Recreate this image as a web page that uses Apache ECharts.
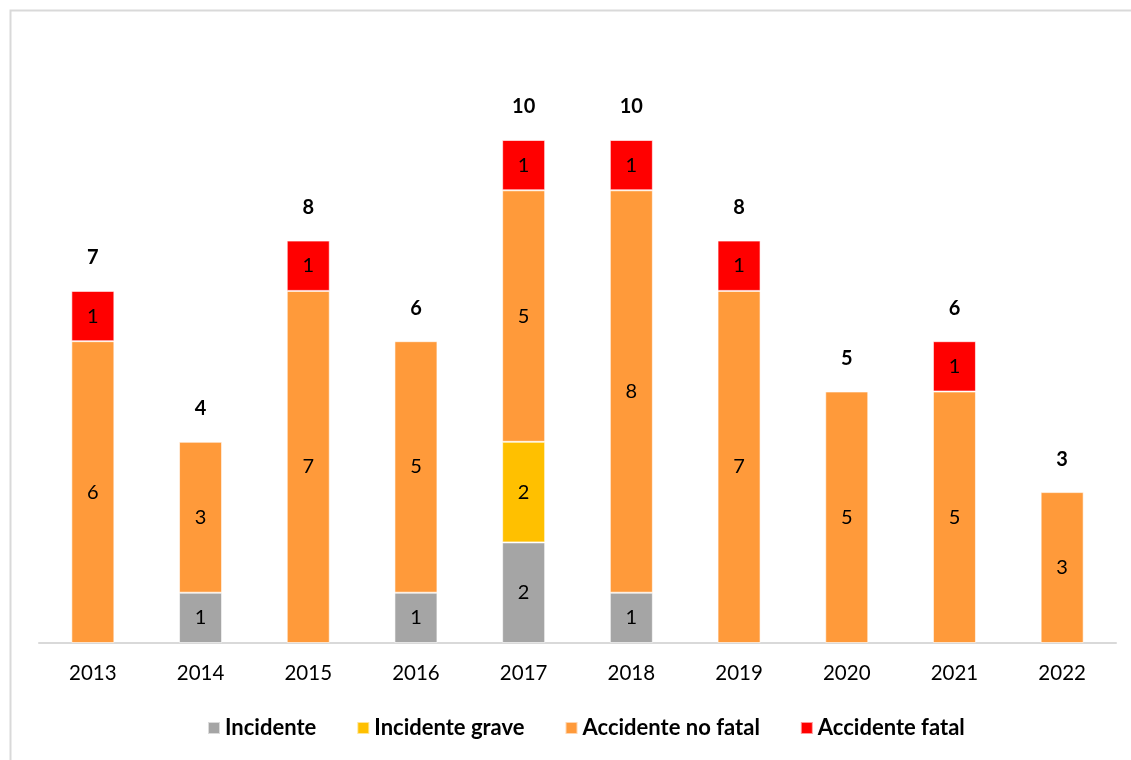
<!DOCTYPE html>
<html>
<head>
<meta charset="utf-8">
<script src="https://cdn.jsdelivr.net/npm/echarts@6/dist/echarts.min.js"></script>
<style>
  html, body { margin: 0; padding: 0; background: #fff; }
  #main { width: 1131px; height: 760px; }
</style>
</head>
<body>
<div id="main"></div>
<script>
// datos
var years = ['2013', '2014', '2015', '2016', '2017', '2018', '2019', '2020', '2021', '2022'];
var incidente = [0, 1, 0, 1, 2, 1, 0, 0, 0, 0];
var incidenteGrave = [0, 0, 0, 0, 2, 0, 0, 0, 0, 0];
var accidenteNoFatal = [6, 3, 7, 5, 5, 8, 7, 5, 5, 3];
var accidenteFatal = [1, 0, 1, 0, 1, 1, 1, 0, 1, 0];

var totals = years.map(function (y, i) {
  return incidente[i] + incidenteGrave[i] + accidenteNoFatal[i] + accidenteFatal[i];
});

var FONT = 'Lato, "Liberation Sans", sans-serif';

function serie(name, data, color) {
  return {
    name: name,
    type: 'bar',
    stack: 'total',
    barWidth: 43,
    data: data.map(function (v) { return v === 0 ? null : v; }),
    itemStyle: { color: color, borderColor: 'rgba(255,255,255,0.6)', borderWidth: 1 },
    label: {
      show: true,
      position: 'inside',
      color: '#000',
      fontSize: 20,
      fontFamily: FONT
    }
  };
}

var myChart = echarts.init(document.getElementById('main'));
myChart.setOption({
  backgroundColor: '#fff',
  animation: false,
  graphic: [{
    type: 'rect',
    shape: { x: 10.5, y: 10.5, width: 1140, height: 800 },
    style: { fill: 'none', stroke: '#d9d9d9', lineWidth: 2 },
    silent: true
  }],
  grid: { left: 39, right: 15, top: 39.4, bottom: 117 },
  legend: {
    data: ['Incidente', 'Incidente grave', 'Accidente no fatal', 'Accidente fatal'],
    left: 202,
    top: 712,
    itemWidth: 12,
    itemHeight: 12,
    itemGap: 40,
    icon: 'rect',
    textStyle: { fontSize: 22, fontWeight: 'bold', color: '#000', fontFamily: FONT }
  },
  xAxis: {
    type: 'category',
    data: years,
    axisLine: { lineStyle: { color: '#d9d9d9', width: 2 } },
    axisTick: { show: false },
    axisLabel: { color: '#000', fontSize: 20.5, margin: 20, fontFamily: FONT }
  },
  yAxis: {
    type: 'value',
    min: 0,
    max: 12,
    show: false,
    splitLine: { show: false }
  },
  series: [
    serie('Incidente', incidente, '#a5a5a5'),
    serie('Incidente grave', incidenteGrave, '#ffc000'),
    serie('Accidente no fatal', accidenteNoFatal, '#ff9a3a'),
    serie('Accidente fatal', accidenteFatal, '#ff0000'),
    {
      name: 'Total',
      type: 'bar',
      stack: 'total',
      barWidth: 43,
      data: years.map(function () { return 0; }),
      itemStyle: { color: 'transparent' },
      label: {
        show: true,
        position: 'top',
        distance: 23,
        color: '#000',
        fontSize: 20,
        fontWeight: 'bold',
        fontFamily: FONT,
        formatter: function (p) { return totals[p.dataIndex]; }
      }
    }
  ]
});
</script>
</body>
</html>
